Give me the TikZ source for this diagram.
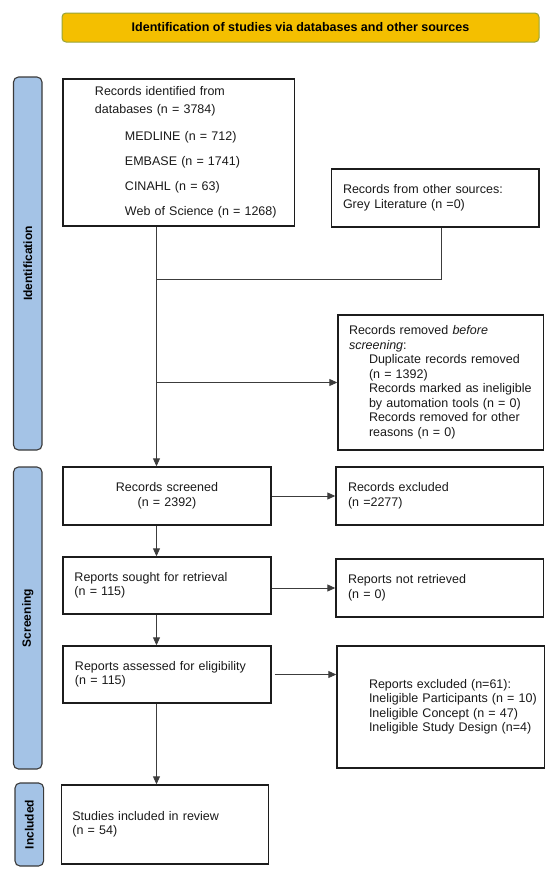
\documentclass[tikz,border=0pt]{standalone}
\usepackage{fontspec}
\setmainfont{Liberation Sans}
\usetikzlibrary{arrows.meta}
\definecolor{titlefill}{HTML}{F4BF00}
\definecolor{titleline}{HTML}{97A43A}
\definecolor{sidefill}{HTML}{A4C3E6}
\definecolor{sideline}{HTML}{3A3A3A}
\definecolor{boxline}{HTML}{1C1C1C}
\definecolor{arrline}{HTML}{3C3C3C}
\newcommand\indentby[1]{\hspace*{#1pt}}
\tikzset{
  box/.style={draw=boxline,line width=1.4pt,inner xsep=0pt,inner ysep=0pt,align=left,
    text=black!90,font=\fontsize{12.5}{14.5}\selectfont},
  side/.style={draw=sideline,fill=sidefill,line width=1.1pt,rounded corners=5pt,rotate=90,
    inner sep=0pt,font=\fontsize{12}{14}\selectfont\bfseries},
  flow/.style={draw=arrline,line width=0.9pt},
  arr/.style={flow,-{Triangle[length=8pt,width=7pt]}}
}
\begin{document}
\begin{tikzpicture}[x=1pt,y=-1pt]
\useasboundingbox (0,0) rectangle (550,879);
\node[draw=titleline,fill=titlefill,line width=1pt,rounded corners=4pt,minimum width=477pt,
  minimum height=29pt,font=\fontsize{12.5}{14.5}\selectfont\bfseries] (title) at (300.5,27.5)
  {Identification of studies via databases and other sources};
\node[side,minimum width=373pt,minimum height=28.5pt] (identside) at (27.75,263.5) {Identification};
\node[side,minimum width=302pt,minimum height=28.5pt] (screenside) at (27.75,618) {Screening};
\node[side,minimum width=83pt,minimum height=28.6pt] (inclside) at (29.3,824.5) {Included};
\node[box,minimum width=231.5pt,minimum height=147pt,text width=231.5pt,
  font=\fontsize{12.5}{18}\selectfont] (dbrec) at (178.75,152.5)
  {\indentby{32}Records identified from\\\indentby{32}databases (n = 3784)\\[9pt]
  \indentby{62}MEDLINE (n = 712)\\[7pt]
  \indentby{62}EMBASE (n = 1741)\\[7pt]
  \indentby{62}CINAHL (n = 63)\\[7pt]
  \indentby{62}Web of Science (n = 1268)};
\node[box,minimum width=207.5pt,minimum height=58pt,text width=207.5pt] (otherrec) at (435.25,198)
  {\indentby{11.5}Records from other sources:\\\indentby{11.5}Grey Literature (n =0)};
\node[box,minimum width=205.6pt,minimum height=135pt,text width=205.6pt] (removed) at (440.8,382.5)
  {\indentby{11}Records removed \textit{before}\\\indentby{11}\textit{screening}:\\
  \indentby{31}Duplicate records removed\\
  \indentby{31}(n = 1392)\\
  \indentby{31}Records marked as ineligible\\
  \indentby{31}by automation tools (n = 0)\\
  \indentby{31}Records removed for other\\
  \indentby{31}reasons (n = 0)};
\node[box,minimum width=208pt,minimum height=58pt,text width=208pt,align=center] (screened) at (167,496)
  {Records screened\\(n = 2392)};
\node[box,minimum width=207.6pt,minimum height=58pt,text width=207.6pt] (excluded) at (439.8,496)
  {\indentby{12}Records excluded\\\indentby{12}(n =2277)};
\node[box,minimum width=208pt,minimum height=57pt,text width=208pt] (sought) at (167,585.5)
  {\indentby{11.5}Reports sought for retrieval\\\indentby{11.5}(n = 115)};
\node[box,minimum width=207.6pt,minimum height=58pt,text width=207.6pt] (notretr) at (439.8,588)
  {\indentby{12}Reports not retrieved\\\indentby{12}(n = 0)};
\node[box,minimum width=208pt,minimum height=57pt,text width=208pt] (assessed) at (167,674.5)
  {\indentby{12}Reports assessed for eligibility\\\indentby{12}(n = 115)};
\node[box,minimum width=207.7pt,minimum height=122pt,text width=207.7pt] (repexcl) at (440.85,707)
  {\indentby{32}Reports excluded (n=61):\\\indentby{32}Ineligible Participants (n = 10)\\
  \indentby{32}Ineligible Concept (n = 47)\\\indentby{32}Ineligible Study Design (n=4)};
\node[box,minimum width=207.2pt,minimum height=79pt,text width=207.2pt] (included) at (165,824.5)
  {\indentby{11}Studies included in review\\\indentby{11}(n = 54)};
\coordinate (spine) at (156.5,0);
\coordinate (otherdrop) at (441,279);
\draw[flow] (otherrec.south -| otherdrop) -- (otherdrop) -- (otherdrop -| spine);
\draw[arr] (dbrec.south -| spine) -- (screened.north -| spine);
\draw[arr] (spine |- removed.west) -- (removed.west);
\draw[arr] (screened.east) -- (excluded.west);
\draw[arr] (screened.south -| spine) -- (sought.north -| spine);
\draw[arr] (sought.east |- notretr.west) -- (notretr.west);
\draw[arr] (sought.south -| spine) -- (assessed.north -| spine);
\draw[arr] ([xshift=3pt]assessed.east) -- (assessed.east -| repexcl.west);
\draw[arr] (assessed.south -| spine) -- (included.north -| spine);
\end{tikzpicture}
\end{document}
